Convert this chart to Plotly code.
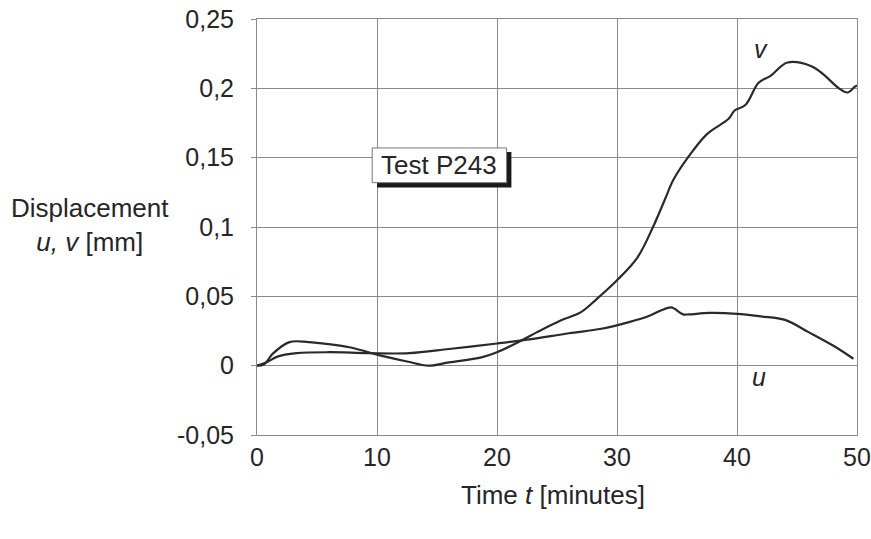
import plotly.graph_objects as go

# Data
t_v = [0, 0.6, 1.3, 2.7, 4.3, 6.0, 7.7, 9.3, 10.7, 12.5, 14.3, 16.0, 18.7, 20.0, 22.0, 23.3, 25.3, 27.0,
       28.3, 30.0, 31.7, 33.0, 34.0, 34.7, 35.9, 37.5, 39.3, 39.8, 40.7, 41.8, 42.8, 44.2, 46.2, 47.2,
       48.5, 49.2, 49.8, 50.0]
v_vals = [0, 0.001, 0.0085, 0.017, 0.017, 0.0155, 0.0133, 0.0097, 0.0065, 0.003, 0.0, 0.0024, 0.006, 0.0097,
          0.018, 0.024, 0.0326, 0.0386, 0.048, 0.0616, 0.078, 0.1, 0.12, 0.134, 0.15, 0.167, 0.178, 0.184,
          0.188, 0.204, 0.209, 0.2186, 0.216, 0.210, 0.200, 0.197, 0.201, 0.202]

t_u = [0, 0.8, 1.7, 3.3, 6.0, 9.3, 12.7, 16.0, 20.0, 22.7, 26.0, 28.7, 31.0, 32.7, 33.7, 34.5, 34.8,
       35.5, 36.0, 37.7, 40.0, 42.0, 44.0, 46.0, 48.0, 49.7]
u_vals = [0, 0.0024, 0.0065, 0.009, 0.0097, 0.009, 0.009, 0.012, 0.016, 0.019, 0.0234, 0.0266, 0.0314,
          0.036, 0.040, 0.042, 0.041, 0.037, 0.037, 0.038, 0.0374, 0.0355, 0.033, 0.024, 0.0145, 0.005]

x_ticks = [0, 10, 20, 30, 40, 50]
y_ticks = [-0.05, 0, 0.05, 0.1, 0.15, 0.2, 0.25]
y_ticktext = ["-0,05", "0", "0,05", "0,1", "0,15", "0,2", "0,25"]

FONT = "Liberation Sans, Arial, sans-serif"
LINE = "#2a2a2a"
TXT = "#262626"

fig = go.Figure()
fig.add_trace(go.Scatter(x=t_v, y=v_vals, mode="lines", line=dict(color=LINE, width=2.2),
                         line_shape="spline", showlegend=False))
fig.add_trace(go.Scatter(x=t_u, y=u_vals, mode="lines", line=dict(color=LINE, width=2.2),
                         line_shape="spline", showlegend=False))

fig.update_layout(
    width=871, height=539,
    margin=dict(l=257, r=14, t=19, b=104),
    paper_bgcolor="white", plot_bgcolor="white",
    font=dict(family=FONT, size=25, color=TXT),
    xaxis=dict(range=[0, 50], tickvals=x_ticks, ticktext=[str(v) for v in x_ticks],
               showgrid=True, gridcolor="#8a8a8a", gridwidth=1, zeroline=False,
               showline=True, linecolor="#8a8a8a", mirror=True, ticks="", ticklabelstandoff=0,
               tickfont=dict(size=25), automargin=False),
    yaxis=dict(range=[-0.05, 0.25], tickvals=y_ticks, ticktext=y_ticktext,
               showgrid=True, gridcolor="#8a8a8a", gridwidth=1, zeroline=False,
               showline=True, linecolor="#8a8a8a", mirror=True, ticks="outside", ticklen=5,
               tickcolor="#8a8a8a", ticklabelstandoff=12, tickfont=dict(size=25), automargin=False),
)

# Axis titles
fig.add_annotation(xref="paper", yref="paper", x=-0.278, y=0.505, xanchor="center", yanchor="middle",
                   text="Displacement<br><i>u, v</i> [mm]", showarrow=False,
                   font=dict(family=FONT, size=26, color=TXT), align="center")
fig.add_annotation(xref="paper", yref="paper", x=0.493, y=-0.145, xanchor="center", yanchor="middle",
                   text="Time <i>t</i> [minutes]", showarrow=False,
                   font=dict(family=FONT, size=26, color=TXT))

# Curve labels
fig.add_annotation(x=42.0, y=0.2285, text="<i>v</i>", showarrow=False,
                   font=dict(family=FONT, size=25, color=TXT))
fig.add_annotation(x=41.8, y=-0.0085, text="<i>u</i>", showarrow=False,
                   font=dict(family=FONT, size=25, color=TXT))

# Test label box with shadow
fig.add_shape(type="rect", x0=10.0, x1=21.2, y0=0.1285, y1=0.154,
              fillcolor="#1a1a1a", line=dict(width=0))
fig.add_shape(type="rect", x0=9.6, x1=20.8, y0=0.132, y1=0.157,
              fillcolor="white", line=dict(color="#777777", width=1))
fig.add_annotation(x=15.2, y=0.1445, text="Test P243", showarrow=False,
                   font=dict(family=FONT, size=26, color=TXT))

fig.write_html("out.html")
